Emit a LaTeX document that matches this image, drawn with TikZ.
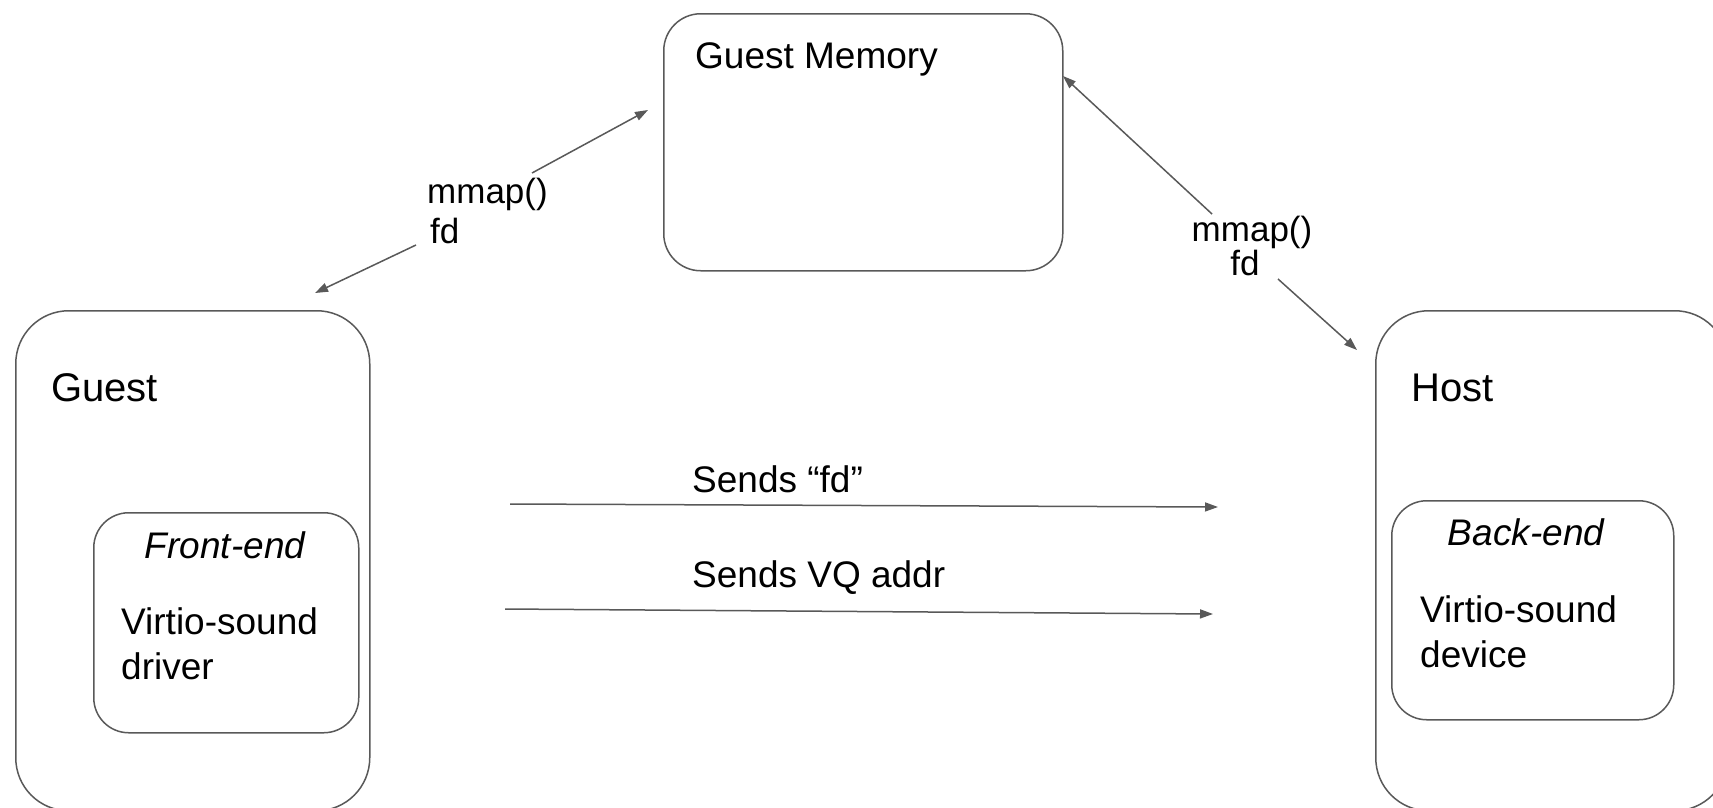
\documentclass[tikz,border=0pt]{standalone}
\usepackage{fontspec}
\setmainfont{Liberation Sans}
\usetikzlibrary{arrows.meta}
\definecolor{linegray}{RGB}{89,89,89}
\begin{document}
\begin{tikzpicture}[x=1pt,y=-1pt,
  box/.style={draw=linegray, line width=1.5pt, rounded corners=#1,
    inner sep=0pt, anchor=north west},
  txt/.style={inner sep=0pt, text=black, font=\fontsize{37}{45}\selectfont},
  bigtxt/.style={inner sep=0pt, text=black, font=\fontsize{40}{48}\selectfont},
  small/.style={inner sep=0pt, text=black, font=\fontsize{35}{#1}\selectfont},
  link/.style={draw=linegray, line width=1.5pt,
    -{Triangle[length=13pt,width=9pt]}}
]
\useasboundingbox (0,0) rectangle (1713,807);
\fill[white] (0,0) rectangle (1713,807);
\clip (0,0) rectangle (1713,807);

% boxes
\node[box=37pt, minimum width=399pt, minimum height=257pt] (mem) at (663,13) {};
\node[box=53pt, minimum width=354pt, minimum height=500pt] (guest) at (15,310) {};
\node[box=53pt, minimum width=352pt, minimum height=500pt] (host) at (1375,310) {};
\node[box=35pt, minimum width=265pt, minimum height=220pt] (front) at (93,512) {};
\node[box=35pt, minimum width=282pt, minimum height=219pt] (back) at (1391,500) {};

% titles and contents (multi-line nodes are placed by their last baseline)
\node[txt, anchor=base west] (memtitle) at (695,68) {Guest Memory};
\node[bigtxt, anchor=base west] (guesttitle) at (51,401) {Guest};
\node[bigtxt, anchor=base west] (hosttitle) at (1411,401) {Host};
\node[txt, anchor=base, font=\fontsize{37}{45}\selectfont\itshape] (fronttitle) at (225,558) {Front-end};
\node[txt, anchor=base west, align=left] (fronttext) at (121,679) {Virtio-sound\\driver};
\node[txt, anchor=base, font=\fontsize{37}{45}\selectfont\itshape] (backtitle) at (1526,545) {Back-end};
\node[txt, anchor=base west, align=left] (backtext) at (1420,667) {Virtio-sound\\device};

% mmap labels
\node[small=40, anchor=base west, align=left] (lmap) at (427,243) {mmap()\\\hspace*{3pt}fd};
\node[small=32, anchor=base, align=center] (rmap) at (1252,275) {mmap()\\fd\hspace*{14pt}};

% message labels
\node[txt, anchor=base west] (sendfd) at (692,492) {Sends “fd”};
\node[txt, anchor=base west] (sendvq) at (692,587) {Sends VQ addr};

% connector ends
\coordinate (l1s) at (532,173);
\coordinate (l1e) at (648,110);
\coordinate (l2s) at (416,245);
\coordinate (l2e) at (315,293);
\coordinate (r1s) at (1212,214);
\coordinate (r1e) at (1063,76);
\coordinate (r2s) at (1278,279);
\coordinate (r2e) at (1357,350);
\coordinate (s1s) at (510,504);
\coordinate (s1e) at (1218,507);
\coordinate (s2s) at (505,609);
\coordinate (s2e) at (1213,614);

% connectors
\draw[link] (l1s) -- (l1e);
\draw[link] (l2s) -- (l2e);
\draw[link] (r1s) -- (r1e);
\draw[link] (r2s) -- (r2e);
\draw[link] (s1s) -- (s1e);
\draw[link] (s2s) -- (s2e);
\end{tikzpicture}
\end{document}
